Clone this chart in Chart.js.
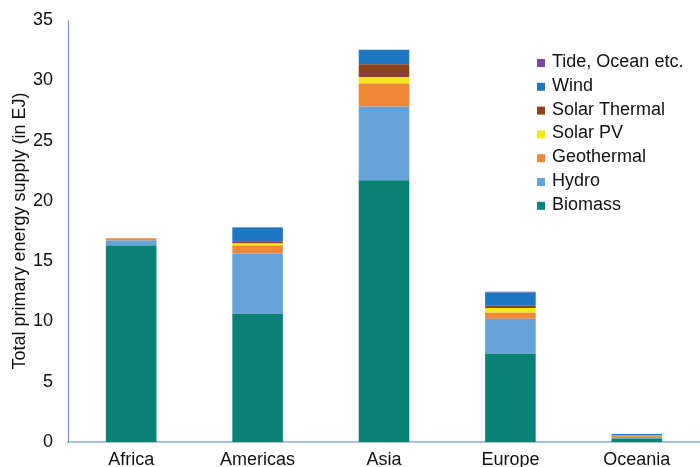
<!DOCTYPE html>
<html>
<head>
<meta charset="utf-8">
<script src="https://cdn.jsdelivr.net/npm/chart.js@4/dist/chart.umd.min.js"></script>
<style>
  html, body { margin: 0; padding: 0; background: #fff; }
  #wrap { width: 700px; height: 467px; }
</style>
</head>
<body>
<div id="wrap"><canvas id="supplyChart"></canvas></div>
<script>
const regions = ["Africa", "Americas", "Asia", "Europe", "Oceania"];

// values in EJ
const biomass      = [16.3, 10.64, 21.7, 7.32, 0.3];
const hydro        = [0.42, 5.0, 6.12, 2.9, 0.1];
const geothermal   = [0.17, 0.66, 1.91, 0.5, 0.12];
const solarPV      = [0.0, 0.17, 0.55, 0.39, 0.01];
const solarThermal = [0.0, 0.17, 1.06, 0.19, 0.01];
const wind         = [0.0, 1.16, 1.19, 1.1, 0.12];
const tideOcean    = [0.0, 0.02, 0.01, 0.06, 0.0];

const yTicks = [0, 5, 10, 15, 20, 25, 30, 35];

const FONT = "'Liberation Sans', Arial, Helvetica, sans-serif";

// legend drawn inside the plot, top entry = last dataset
const insideLegend = {
    id: 'insideLegend',
    afterDraw(chart) {
        const ctx = chart.ctx;
        const sets = chart.data.datasets;
        ctx.save();
        ctx.font = '18px ' + FONT;
        ctx.textBaseline = 'middle';
        ctx.textAlign = 'left';
        let y = 62;
        for (let i = sets.length - 1; i >= 0; i--) {
            ctx.fillStyle = sets[i].backgroundColor;
            ctx.fillRect(537, y - 3, 8, 8);
            ctx.fillStyle = '#111';
            ctx.fillText(sets[i].label, 552, y);
            y += 23.8;
        }
        ctx.restore();
    }
};

const ctx = document.getElementById("supplyChart").getContext("2d");

new Chart(ctx, {
    type: 'bar',
    data: {
        labels: regions,
        datasets: [
            { label: 'Biomass', data: biomass, backgroundColor: '#0b8276' },
            { label: 'Hydro', data: hydro, backgroundColor: '#64a2d8' },
            { label: 'Geothermal', data: geothermal, backgroundColor: '#f0883a' },
            { label: 'Solar PV', data: solarPV, backgroundColor: '#f3e619' },
            { label: 'Solar Thermal', data: solarThermal, backgroundColor: '#8a4520' },
            { label: 'Wind', data: wind, backgroundColor: '#1f77c2' },
            { label: 'Tide, Ocean etc.', data: tideOcean, backgroundColor: '#7a48a6' }
        ]
    },
    options: {
        responsive: true,
        maintainAspectRatio: false,
        animation: false,
        barPercentage: 0.4,
        categoryPercentage: 1.0,
        layout: { padding: { top: 20, right: 0, bottom: 0, left: 0 } },
        plugins: {
            legend: { display: false },
            tooltip: { enabled: false }
        },
        scales: {
            x: {
                stacked: true,
                grid: { display: false, drawTicks: false },
                border: { display: true, color: '#a9c0e0', width: 2 },
                ticks: {
                    color: '#111',
                    padding: 9,
                    font: { family: FONT, size: 18, lineHeight: 1 }
                },
                afterFit: s => {
                    s.height = 25;
                    s.paddingLeft = 0;
                    s.paddingRight = 0;
                }
            },
            y: {
                stacked: true,
                min: 0,
                max: 35,
                grid: { display: false, drawTicks: false },
                border: { display: true, color: '#6f96d0', width: 1 },
                afterBuildTicks: s => { s.ticks = yTicks.map(v => ({ value: v })); },
                ticks: {
                    color: '#111',
                    padding: 15,
                    font: { family: FONT, size: 18 }
                },
                title: {
                    display: true,
                    text: 'Total primary energy supply (in EJ)',
                    color: '#111',
                    padding: { top: 9, bottom: 0 },
                    font: { family: FONT, size: 18 }
                },
                afterFit: s => {
                    s.width = 68;
                    s.paddingTop = 0;
                    s.paddingBottom = 0;
                }
            }
        }
    },
    plugins: [insideLegend]
});
</script>
</body>
</html>
